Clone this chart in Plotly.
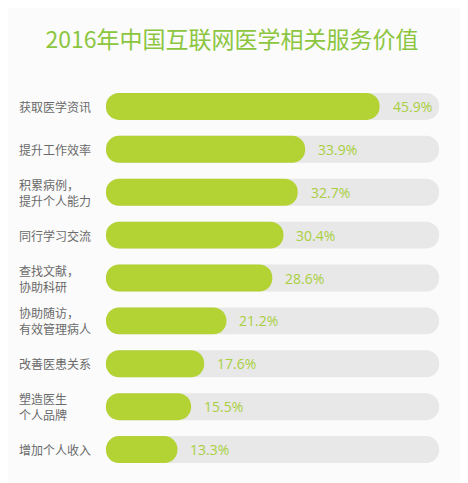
import plotly.graph_objects as go

# chart data
title = "2016年中国互联网医学相关服务价值"
labels = [
    "获取医学资讯",
    "提升工作效率",
    "积累病例，<br>提升个人能力",
    "同行学习交流",
    "查找文献，<br>协助科研",
    "协助随访，<br>有效管理病人",
    "改善医患关系",
    "塑造医生<br>个人品牌",
    "增加个人收入",
]
values = [45.9, 33.9, 32.7, 30.4, 28.6, 21.2, 17.6, 15.5, 13.3]
value_text = [f"{v:.1f}%" for v in values]

# styling
GREEN = "#b3d234"
TRACK = "#e8e8e8"
TITLE_GREEN = "#8cc63f"
VALUE_GREEN = "#a9cf3e"
LABEL_GREY = "#6a6a6a"
FONT = "Noto Sans CJK SC, Noto Sans, sans-serif"

# page body has an 8px margin, so the figure is 8px smaller each way
W, H = 460, 475

BAR_BASE = 1.77   # left end of the rounded bars
TRACK_END = 55.5  # right end of grey track

fig = go.Figure()

# grey track behind each bar
fig.add_trace(
    go.Bar(
        y=labels,
        x=[TRACK_END - BAR_BASE] * len(labels),
        base=BAR_BASE,
        orientation="h",
        width=0.628,
        marker=dict(color=TRACK, cornerradius="50%", line=dict(width=0)),
        hoverinfo="skip",
        showlegend=False,
    )
)

# green value bars
fig.add_trace(
    go.Bar(
        y=labels,
        x=[v - BAR_BASE for v in values],
        base=BAR_BASE,
        orientation="h",
        width=0.628,
        marker=dict(color=GREEN, cornerradius="50%", line=dict(width=0)),
        hovertemplate="%{y}: %{customdata}<extra></extra>",
        customdata=value_text,
        showlegend=False,
    )
)

# category labels on the left, left-aligned
for lab in labels:
    fig.add_annotation(
        x=9 / W,
        xref="paper",
        y=lab,
        yref="y",
        text=lab,
        showarrow=False,
        xanchor="left",
        align="left",
        font=dict(size=12, color=LABEL_GREY, family=FONT),
    )

# value labels after each bar
for lab, v, t in zip(labels, values, value_text):
    fig.add_annotation(
        x=v,
        y=lab,
        text=t,
        showarrow=False,
        xanchor="left",
        xshift=11,
        font=dict(size=14, color=VALUE_GREEN, family="Open Sans, Noto Sans, sans-serif"),
    )

fig.update_layout(
    width=W,
    height=H,
    autosize=False,
    margin=dict(l=0, r=0, t=76.5, b=11.5),
    paper_bgcolor="#fbfbfb",
    plot_bgcolor="#fbfbfb",
    barmode="overlay",
    title=dict(
        text=title,
        x=224 / W,
        xanchor="center",
        y=1 - 32 / H,
        yanchor="middle",
        font=dict(size=23, color=TITLE_GREEN, family=FONT),
    ),
    xaxis=dict(range=[-14.03, 60.16], visible=False, fixedrange=True),
    yaxis=dict(
        range=[len(labels) - 0.5, -0.5],
        showticklabels=False,
        showgrid=False,
        zeroline=False,
        fixedrange=True,
    ),
    showlegend=False,
)

fig.write_html("out.html")
